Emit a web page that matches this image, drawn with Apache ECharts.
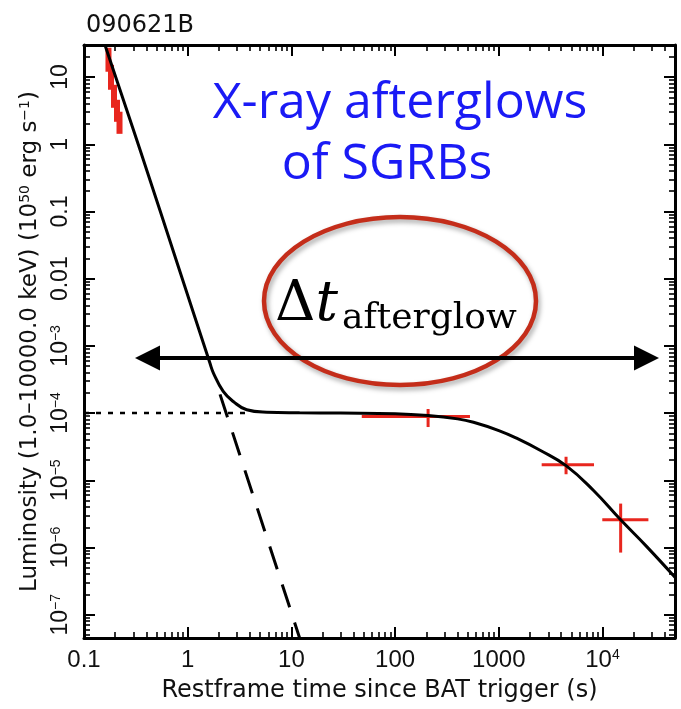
<!DOCTYPE html>
<html><head><meta charset="utf-8">
<script src="https://cdn.jsdelivr.net/npm/echarts@6/dist/echarts.min.js"></script>
<style>html,body{margin:0;padding:0;background:#fff;}#c{width:681px;height:709px;}</style>
</head><body><div id="c"></div>
<script>
// ---------- values ----------
const xRange = [0.1, 50000];
const yRange = [4.5e-8, 30];
const xMajorTicks = [0.1, 1, 10, 100, 1000, 10000];
const xMajorLabels = ['0.1', '1', '10', '100', '1000', '{b|10}{s|4}'];
const yMajorTicks = [10, 1, 0.1, 0.01, 1e-3, 1e-4, 1e-5, 1e-6, 1e-7];
const yMajorLabels = ['10', '1', '0.1', '0.01', '{b|10}{s|−3}', '{b|10}{s|−4}', '{b|10}{s|−5}', '{b|10}{s|−6}', '{b|10}{s|−7}'];
const minorMultipliers = [2, 3, 4, 5, 6, 7, 8, 9];

// model light curve (solid)
const modelTime = [0.159, 0.347, 0.843, 1.64, 1.77, 2.20, 2.75, 3.71, 5.78, 12, 30, 100, 208, 400, 570, 1000, 1500, 2500, 4450, 8150, 14960, 26700, 50000];
const modelLum  = [30.2, 0.83, 0.0127, 5.5e-4, 3.94e-4, 2.1e-4, 1.49e-4, 1.12e-4, 1.03e-4, 1.01e-4, 1.0e-4, 9.8e-5, 9.2e-5, 8.2e-5, 7.3e-5, 5.5e-5, 4.2e-5, 2.8e-5, 1.65e-5, 7.1e-6, 2.58e-6, 1.03e-6, 3.6e-7];
// steep power-law extension (dashed)
const steepTime = [2.05, 9.33, 12.0];
const steepLum  = [1.9e-4, 1.49e-7, 4.5e-8];
// plateau extension (dotted)
const plateauTime = [0.1, 4.0];
const plateauLum  = [1.0e-4, 1.0e-4];
// BAT data (red, early)
const batTime   = [0.1722, 0.1822, 0.1947, 0.2080, 0.2200];
const batTimeLo = [0.165, 0.175, 0.187, 0.200, 0.212];
const batTimeHi = [0.180, 0.190, 0.203, 0.217, 0.229];
const batLum    = [18.1, 9.9, 5.27, 3.26, 2.16];
const batLumLo  = [12.0, 6.47, 3.49, 2.16, 1.43];
const batLumHi  = [27.3, 15.2, 7.67, 4.59, 3.05];
// XRT data (red crosses)
const xrtTime   = [208, 4450, 14960];
const xrtTimeLo = [47.7, 2590, 9950];
const xrtTimeHi = [527, 8280, 27700];
const xrtLum    = [8.9e-5, 1.7e-5, 2.58e-6];
const xrtLumLo  = [6.2e-5, 1.23e-5, 8.4e-7];
const xrtLumHi  = [1.15e-4, 2.24e-5, 4.5e-6];

// ---------- chart ----------
function minors(lo, hi) {
  const out = [];
  for (let k = -9; k <= 6; k++) for (const m of minorMultipliers) {
    const v = m * Math.pow(10, k);
    if (v > lo * 1.0001 && v < hi * 0.9999) out.push(v);
  }
  return out;
}
const xMinor = minors(xRange[0], xRange[1]);
const yMinor = minors(yRange[0], yRange[1]);
function labelOf(ticks, labels) {
  return function (v) {
    let best = 0, bd = Infinity;
    ticks.forEach((t, i) => { const d = Math.abs(Math.log10(t) - Math.log10(v)); if (d < bd) { bd = d; best = i; } });
    return labels[best];
  };
}
const tickFont = 'Liberation Sans';
const titleFont = 'DejaVu Sans';
const black = '#111';
const red = '#e8261e';
function mkAxis(kind, pos, major, withLabel) {
  const isX = kind === 'x';
  const range = isX ? xRange : yRange;
  const ax = {
    type: 'log', logBase: 10, min: range[0], max: range[1], position: pos,
    axisLine: { show: major, onZero: false, lineStyle: { color: '#000', width: 3 } },
    axisTick: { show: true, inside: true, length: major ? 11 : 6,
      lineStyle: { color: '#000', width: major ? 2 : 1.6 },
      customValues: major ? (isX ? xMajorTicks : yMajorTicks) : (isX ? xMinor : yMinor) },
    minorTick: { show: false },
    splitLine: { show: false },
    axisLabel: { show: false },
    silent: true
  };
  if (withLabel) {
    ax.axisLabel = {
      show: true,
      customValues: isX ? xMajorTicks : yMajorTicks,
      formatter: isX ? labelOf(xMajorTicks, xMajorLabels) : labelOf(yMajorTicks, yMajorLabels),
      fontFamily: tickFont, fontSize: isX ? 24 : 23, color: black,
      margin: isX ? 10 : 12,
      rotate: isX ? 0 : 90,
      rich: {
        b: { fontFamily: tickFont, fontSize: isX ? 24 : 23, color: black },
        s: { fontFamily: tickFont, fontSize: 14, color: black, verticalAlign: 'top' }
      }
    };
  }
  return ax;
}
const xAxes = [mkAxis('x', 'bottom', true, true), mkAxis('x', 'bottom', false, false), mkAxis('x', 'top', true, false), mkAxis('x', 'top', false, false)];
const yAxes = [mkAxis('y', 'left', true, true), mkAxis('y', 'left', false, false), mkAxis('y', 'right', true, false), mkAxis('y', 'right', false, false)];
xAxes[0].name = 'Restframe time since BAT trigger (s)';
xAxes[0].nameLocation = 'middle';
xAxes[0].nameGap = 41;
xAxes[0].nameTextStyle = { fontFamily: titleFont, fontSize: 24, color: black };
yAxes[0].name = 'Luminosity (1.0–10000.0 keV) (10{sup|50} erg s{sup|−1})';
yAxes[0].nameLocation = 'middle';
yAxes[0].nameRotate = 90;
yAxes[0].nameGap = 42;
yAxes[0].nameTextStyle = { fontFamily: titleFont, fontSize: 23, color: black,
  rich: { sup: { fontFamily: titleFont, fontSize: 14, color: black, verticalAlign: 'top' } } };

function pairs(xs, ys) { return xs.map((x, i) => [x, ys[i]]); }
function crossSeries(name, t, tLo, tHi, L, LLo, LHi, wV, wH) {
  return {
    name, type: 'custom', xAxisIndex: 0, yAxisIndex: 0, clip: true, z: 1, silent: true,
    data: t.map((v, i) => [v, L[i], tLo[i], tHi[i], LLo[i], LHi[i]]),
    encode: { x: [0, 2, 3], y: [1, 4, 5] },
    renderItem(params, api) {
      const a = api.coord([api.value(2), api.value(1)]);
      const b = api.coord([api.value(3), api.value(1)]);
      const c = api.coord([api.value(0), api.value(4)]);
      const d = api.coord([api.value(0), api.value(5)]);
      return { type: 'group', children: [
        { type: 'line', shape: { x1: a[0], y1: a[1], x2: b[0], y2: b[1] }, style: { stroke: red, lineWidth: wH } },
        { type: 'line', shape: { x1: c[0], y1: c[1], x2: d[0], y2: d[1] }, style: { stroke: red, lineWidth: wV } }
      ] };
    }
  };
}

const chart = echarts.init(document.getElementById('c'), null, { renderer: 'canvas' });
chart.setOption({
  animation: false,
  backgroundColor: '#fff',
  title: { text: '090621B', left: 81, top: 9, textStyle: { fontFamily: titleFont, fontSize: 24, fontWeight: 'normal', color: black } },
  grid: { left: 84, right: 6, top: 45, bottom: 71, containLabel: false },
  xAxis: xAxes,
  yAxis: yAxes,
  series: [
    crossSeries('BAT', batTime, batTimeLo, batTimeHi, batLum, batLumLo, batLumHi, 6, 4),
    crossSeries('XRT', xrtTime, xrtTimeLo, xrtTimeHi, xrtLum, xrtLumLo, xrtLumHi, 3, 3),
    { name: 'plateau', type: 'line', xAxisIndex: 0, yAxisIndex: 0, data: pairs(plateauTime, plateauLum), showSymbol: false, z: 2,
      lineStyle: { color: '#000', width: 2.5, type: [5, 7] } },
    { name: 'steep', type: 'line', xAxisIndex: 0, yAxisIndex: 0, data: pairs(steepTime, steepLum), showSymbol: false, z: 2,
      lineStyle: { color: '#000', width: 3, type: [24, 16] } },
    { name: 'model', type: 'line', xAxisIndex: 0, yAxisIndex: 0, data: pairs(modelTime, modelLum), showSymbol: false, smooth: 0.45, z: 3,
      lineStyle: { color: '#000', width: 3 } }
  ],
  graphic: [
    { type: 'text', z: 20, style: { text: 'X-ray afterglows', x: 400, y: 104, align: 'center', verticalAlign: 'middle', font: '50px "Open Sans"', fill: '#1a1af5' } },
    { type: 'text', z: 20, style: { text: 'of SGRBs', x: 387, y: 165, align: 'center', verticalAlign: 'middle', font: '50px "Open Sans"', fill: '#1a1af5' } },
    { type: 'ellipse', z: 21, shape: { cx: 400, cy: 301, rx: 136, ry: 84 },
      style: { fill: null, stroke: '#c42d1a', lineWidth: 4.5, shadowBlur: 5, shadowColor: 'rgba(0,0,0,0.35)', shadowOffsetX: 2, shadowOffsetY: 3 } },
    { type: 'text', z: 22, style: { text: '{d|Δ}{t|t}', x: 275, y: 305, align: 'left', verticalAlign: 'middle',
        rich: { d: { font: '56px "DejaVu Serif"', fill: '#000' }, t: { font: 'italic 56px "DejaVu Serif"', fill: '#000' } } } },
    { type: 'text', z: 22, style: { text: 'afterglow', x: 342, y: 319, align: 'left', verticalAlign: 'middle', font: '36px "DejaVu Serif"', fill: '#000' } },
    { type: 'line', z: 23, shape: { x1: 150, y1: 358, x2: 645, y2: 358 }, style: { stroke: '#000', lineWidth: 4 } },
    { type: 'polygon', z: 23, shape: { points: [[135, 358], [160, 345.5], [160, 370.5]] }, style: { fill: '#000' } },
    { type: 'polygon', z: 23, shape: { points: [[659, 358], [634, 345.5], [634, 370.5]] }, style: { fill: '#000' } }
  ]
});
</script>
</body></html>
